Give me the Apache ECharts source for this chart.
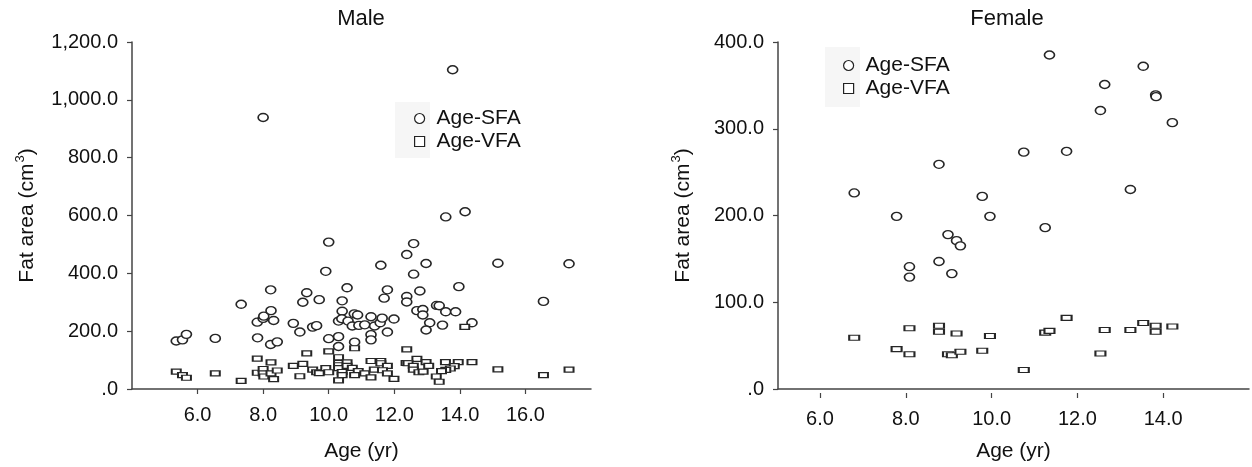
<!DOCTYPE html>
<html>
<head>
<meta charset="utf-8">
<script src="https://cdn.jsdelivr.net/npm/echarts@6/dist/echarts.min.js"></script>
<style>html,body{margin:0;background:#fff}#chart{width:1252px;height:467px}</style>
</head>
<body>
<div id="chart"></div>
<script>
// values: [age (yr), fat area]
var maleSFA = [
    [8.0, 939], [13.78, 1104], [13.57, 595], [14.16, 613],
    [5.35, 166], [5.54, 170], [5.66, 189], [6.54, 175], [7.33, 293], [7.82, 231], [8.0, 244], [8.02, 252],
    [8.23, 343], [8.24, 271], [8.32, 237], [7.83, 177], [8.23, 154], [8.43, 163], [8.92, 227], [9.12, 197],
    [9.21, 300], [9.33, 333], [9.71, 309], [9.51, 214], [9.63, 219], [9.91, 407], [10.0, 508], [10.41, 305],
    [10.41, 269], [10.56, 350], [10.30, 235], [10.40, 243], [10.59, 235], [10.0, 174], [10.30, 181], [10.30, 147],
    [12.59, 503], [12.38, 465], [12.97, 434], [11.59, 428], [15.16, 435], [17.33, 433], [12.59, 397], [13.97, 354],
    [11.79, 343], [12.78, 339], [11.69, 314], [12.38, 320], [12.38, 301], [16.55, 303], [12.69, 271], [12.87, 275],
    [12.87, 256], [13.29, 289], [13.37, 288], [13.57, 267], [13.87, 267], [10.78, 260], [10.88, 256], [10.72, 218],
    [10.92, 220], [11.10, 222], [11.29, 250], [11.40, 218], [11.57, 229], [11.63, 245], [11.99, 242], [11.79, 197],
    [11.29, 188], [11.29, 170], [10.79, 162], [13.08, 229], [12.97, 204], [13.47, 221], [14.37, 229]
];
var maleVFA = [
    [5.35, 60], [5.54, 48], [5.66, 39], [6.54, 54], [7.33, 28], [7.82, 105], [7.82, 56], [8.0, 69], [8.0, 54],
    [8.02, 43], [8.24, 92], [8.24, 54], [8.32, 34], [8.43, 64], [8.92, 80], [9.12, 44], [9.21, 87], [9.33, 123],
    [9.51, 67], [9.63, 58], [9.71, 55], [9.91, 72], [10.0, 130], [10.0, 58], [10.30, 110], [10.30, 90], [10.30, 82],
    [10.30, 72], [10.41, 59], [10.41, 48], [10.30, 30], [10.56, 92], [10.56, 80],
    [14.15, 215], [10.79, 141], [12.38, 137], [12.69, 104], [11.29, 97], [11.59, 97], [11.59, 89], [11.79, 80],
    [12.36, 90], [12.42, 89], [12.58, 80], [12.58, 67], [12.97, 93], [13.05, 80], [13.56, 93], [13.95, 93],
    [14.37, 93], [13.83, 79], [13.71, 71], [13.57, 66], [13.44, 62], [13.28, 43], [13.37, 25], [12.75, 58],
    [12.88, 60], [15.16, 68], [16.55, 48], [17.33, 67], [10.72, 73], [10.90, 62], [11.10, 54], [11.39, 67],
    [11.64, 65], [11.79, 54], [11.99, 35], [11.29, 40], [10.79, 48]
];
var femaleSFA = [
    [6.78, 226], [7.77, 199], [8.76, 259], [9.77, 222], [9.95, 199], [11.34, 385], [13.53, 372], [12.63, 351],
    [13.82, 339], [13.83, 337], [12.53, 321], [14.21, 307], [10.74, 273], [11.74, 274], [13.23, 230], [11.24, 186],
    [8.97, 178], [9.17, 171], [9.26, 165], [8.76, 147], [8.07, 141], [8.07, 129], [9.06, 133]
];
var femaleVFA = [
    [6.78, 59], [7.77, 46], [8.07, 70], [8.07, 40], [8.76, 73], [8.76, 66], [8.97, 40], [9.06, 39], [9.17, 64],
    [9.26, 43], [9.77, 44], [9.95, 61], [10.74, 22], [11.24, 65], [11.34, 67], [11.74, 82], [12.63, 68],
    [12.53, 41], [13.23, 68], [13.53, 76], [13.82, 73], [13.82, 66], [14.21, 72]
];

function fmtArea(v) {
    if (v === 0) return '.0';
    var s = String(Math.round(v));
    s = s.replace(/\B(?=(\d{3})+(?!\d))/g, ',');
    return s + '.0';
}

var FONT = 'Liberation Sans';
var textColor = '#111';
var lineColor = '#444';
var markColor = '#262626';
var yName = '{a|Fat area (cm}{s|3}{a|)}';
var yNameStyle = {
    rich: {
        a: { fontSize: 21, color: textColor, fontFamily: FONT },
        s: { fontSize: 13, color: textColor, fontFamily: FONT, padding: [0, 0, 13, 1] }
    }
};
var axisLineStyle = { color: lineColor, width: 1.5 };
var tickStyle = { show: true, length: 5, lineStyle: { color: lineColor, width: 1.2 } };
var tickLabel = { fontSize: 20, color: textColor, fontFamily: FONT };

function ageLabel(v) { return v.toFixed(1); }

function scatterOf(name, gi, data, symbol, size) {
    return {
        name: name, type: 'scatter', xAxisIndex: gi, yAxisIndex: gi,
        symbol: symbol, symbolSize: size, data: data,
        itemStyle: { color: '#fff', borderColor: markColor, borderWidth: 1.5, opacity: 1 },
        emphasis: { disabled: true }
    };
}

function legendOf(left, top) {
    return {
        left: left, top: top, orient: 'vertical', padding: 0, itemGap: 2,
        itemWidth: 10, itemHeight: 10,
        textStyle: { fontSize: 21, color: textColor, fontFamily: FONT, padding: [0, 0, 0, 7] },
        itemStyle: { color: '#fff', borderColor: '#222', borderWidth: 1.2 },
        data: [{ name: 'Age-SFA', icon: 'circle' }, { name: 'Age-VFA', icon: 'rect' }],
        selectedMode: false
    };
}

var myChart = echarts.init(document.getElementById('chart'));
var option = {
    backgroundColor: '#fff',
    animation: false,
    title: [
        { text: 'Male', left: 356, top: 3, textAlign: 'center',
          textStyle: { fontSize: 22, fontWeight: 'normal', color: textColor, fontFamily: FONT } },
        { text: 'Female', left: 1002, top: 3, textAlign: 'center',
          textStyle: { fontSize: 22, fontWeight: 'normal', color: textColor, fontFamily: FONT } }
    ],
    graphic: [
        { type: 'rect', shape: { x: 395, y: 102, width: 35, height: 56 }, style: { fill: '#f6f6f6' }, z: -1 },
        { type: 'rect', shape: { x: 825, y: 47, width: 35, height: 60 }, style: { fill: '#f6f6f6' }, z: -1 }
    ],
    legend: [legendOf(414, 108), legendOf(843, 55)],
    grid: [
        { left: 132, top: 42, width: 459, height: 351 },
        { left: 778, top: 42, width: 471, height: 351 },
        // female age ticks start at 6 while the axis starts at 5
        { left: 820, top: 42, width: 429, height: 351 }
    ],
    xAxis: [
        {
            type: 'value', gridIndex: 0, min: 4, max: 18, interval: 2,
            name: 'Age (yr)', nameLocation: 'middle', nameGap: 52,
            nameTextStyle: { fontSize: 21, color: textColor, fontFamily: FONT },
            splitLine: { show: false }, axisLine: { lineStyle: axisLineStyle }, axisTick: tickStyle,
            axisLabel: Object.assign({ margin: 16, showMinLabel: false, showMaxLabel: false, formatter: ageLabel }, tickLabel)
        },
        {
            type: 'value', gridIndex: 1, min: 5, max: 16,
            name: 'Age (yr)', nameLocation: 'middle', nameGap: 52,
            nameTextStyle: { fontSize: 21, color: textColor, fontFamily: FONT },
            splitLine: { show: false }, axisLine: { lineStyle: axisLineStyle },
            axisTick: { show: false }, axisLabel: { show: false }
        },
        {
            type: 'value', gridIndex: 2, min: 6, max: 16, interval: 2,
            splitLine: { show: false }, axisLine: { show: false }, axisTick: tickStyle,
            axisLabel: Object.assign({ margin: 16, showMaxLabel: false, formatter: ageLabel }, tickLabel)
        }
    ],
    yAxis: [
        {
            type: 'value', gridIndex: 0, min: 0, max: 1200, interval: 200,
            name: yName, nameLocation: 'middle', nameGap: 92, nameTextStyle: yNameStyle,
            splitLine: { show: false }, axisLine: { show: true, lineStyle: axisLineStyle }, axisTick: tickStyle,
            axisLabel: Object.assign({ margin: 14, formatter: fmtArea }, tickLabel)
        },
        {
            type: 'value', gridIndex: 1, min: 0, max: 400, interval: 100,
            name: yName, nameLocation: 'middle', nameGap: 82, nameTextStyle: yNameStyle,
            splitLine: { show: false }, axisLine: { show: true, lineStyle: axisLineStyle }, axisTick: tickStyle,
            axisLabel: Object.assign({ margin: 14, formatter: fmtArea }, tickLabel)
        },
        { type: 'value', gridIndex: 2, min: 0, max: 400, show: false }
    ],
    series: [
        scatterOf('Age-SFA', 0, maleSFA, 'circle', [10, 8]),
        scatterOf('Age-VFA', 0, maleVFA, 'rect', [9, 5]),
        scatterOf('Age-SFA', 1, femaleSFA, 'circle', [10, 8]),
        scatterOf('Age-VFA', 1, femaleVFA, 'rect', [10, 5])
    ]
};
myChart.setOption(option);
</script>
</body>
</html>
